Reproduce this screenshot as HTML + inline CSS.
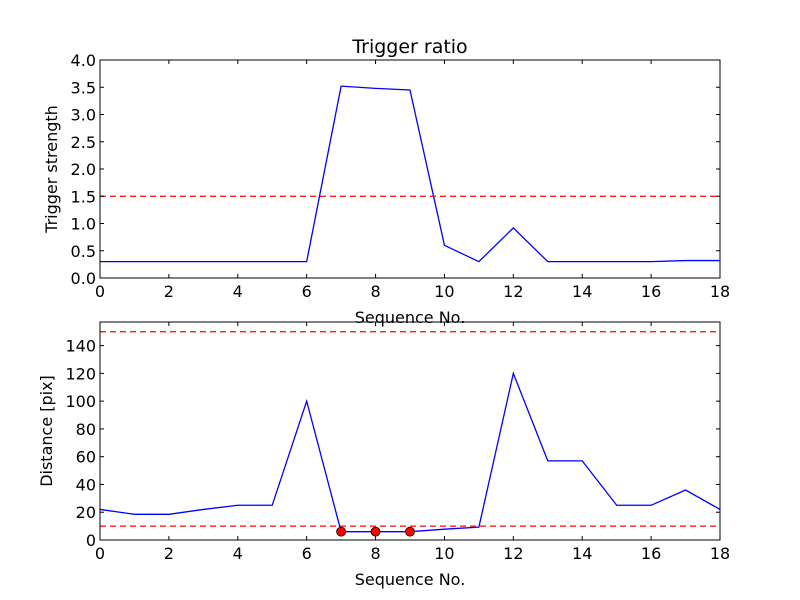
<!DOCTYPE html>
<html><head><meta charset="utf-8"><style>body{margin:0;background:#fff}svg{display:block}text{font-family:"DejaVu Sans","Liberation Sans",sans-serif;fill:#000}</style></head>
<body>
<svg id="c" width="800" height="600"></svg>
<script>
const xs=[0,1,2,3,4,5,6,7,8,9,10,11,12,13,14,15,16,17,18];
const ratio=[0.3,0.3,0.3,0.3,0.3,0.3,0.3,3.52,3.48,3.45,0.6,0.3,0.92,0.3,0.3,0.3,0.3,0.32,0.32];
const dist=[22,18.5,18.5,22,25,25,100,6,6,6,7.8,9.3,120,57,57,25,25,36,22];
const flagged=[7,8,9];
const ratioThresh=[1.5];
const distThresh=[150,10];
const xTicks=[0,2,4,6,8,10,12,14,16,18];
const yTicksTop=[0,0.5,1,1.5,2,2.5,3,3.5,4];
const yTicksBot=[0,20,40,60,80,100,120,140];
const svg=document.getElementById('c');const NS='http://www.w3.org/2000/svg';
function el(t,a,p){const e=document.createElementNS(NS,t);for(const k in a)e.setAttribute(k,a[k]);(p||svg).appendChild(e);return e;}
function panel(name,top,bot,ymax,data,thr,yt,fmt,ylabel,title){
  const L=100,R=720;const sx=v=>L+(v-0)/18*(R-L);const sy=v=>bot-v/ymax*(bot-top);
  const g=el('g',{});
  thr.forEach(t=>{const l=el('line',{x1:L,x2:R,y1:sy(t),y2:sy(t),stroke:'#f00','stroke-dasharray':'6,4','stroke-width':1.2},g);});
  const p=el('polyline',{points:xs.map((x,i)=>sx(x)+','+sy(data[i])).join(' '),fill:'none',stroke:'#00f','stroke-width':1.3},g);
  
  el('rect',{x:L,y:top,width:R-L,height:bot-top,fill:'none',stroke:'#000','stroke-width':1},g);
  xTicks.forEach(v=>{const x=sx(v);el('line',{x1:x,x2:x,y1:bot,y2:bot-4,stroke:'#000'},g);el('line',{x1:x,x2:x,y1:top,y2:top+4,stroke:'#000'},g);
    const t=el('text',{x:x,y:bot+19,'text-anchor':'middle','font-size':16},g);t.textContent=v;});
  yt.forEach(v=>{const y=sy(v);el('line',{x1:L,x2:L+4,y1:y,y2:y,stroke:'#000'},g);el('line',{x1:R,x2:R-4,y1:y,y2:y,stroke:'#000'},g);
    const t=el('text',{x:L-4,y:y+6,'text-anchor':'end','font-size':16},g);t.textContent=fmt(v);});
  const xl=el('text',{x:410,y:bot+45,'text-anchor':'middle','font-size':16},g);xl.textContent='Sequence No.';
  const yl=el('text',{x:0,y:0,'text-anchor':'middle','font-size':16,transform:`translate(${name==='top-panel'?57:52},${(top+bot)/2}) rotate(-90)`},g);yl.textContent=ylabel;
  if(title){const tt=el('text',{x:410,y:top-7,'text-anchor':'middle','font-size':19},g);tt.textContent=title;}
  return {sx,sy,g};
}
panel('top-panel',60,278,4,ratio,ratioThresh,yTicksTop,v=>v.toFixed(1),'Trigger strength','Trigger ratio');
const b=panel('bottom-panel',322,540,157,dist,distThresh,yTicksBot,v=>String(v),'Distance [pix]');
flagged.forEach(i=>{const c=el('circle',{cx:b.sx(xs[i]),cy:b.sy(dist[i]),r:4.5,fill:'#f00',stroke:'#000','stroke-width':0.8},b.g);});
</script>
</body></html>
